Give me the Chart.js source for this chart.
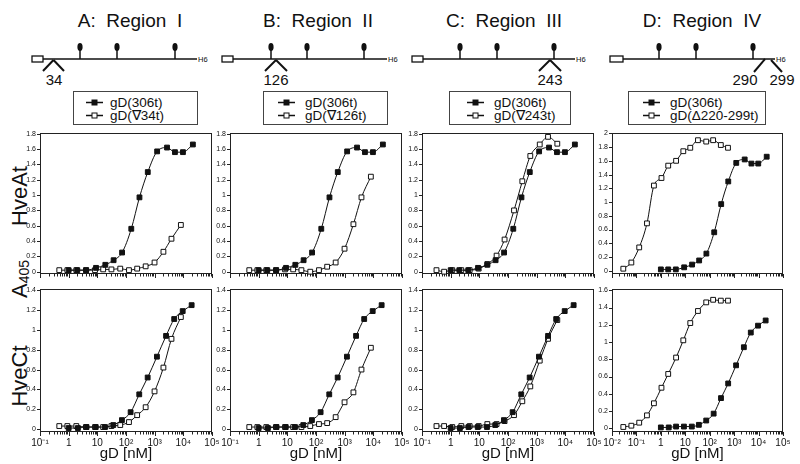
<!DOCTYPE html>
<html>
<head>
<meta charset="utf-8">
<script src="https://cdn.jsdelivr.net/npm/chart.js@4.4.1/dist/chart.umd.min.js"></script>
<style>
  body { margin: 0; background: #fff; }
  #page { position: relative; width: 800px; height: 464px; overflow: hidden; }
  #art { position: absolute; left: 0; top: 0; }
  .panel { position: absolute; }
  .panel canvas { display: block; }
</style>
</head>
<body>
<div id="page">
  <svg id="art" width="800" height="464" font-family="Liberation Sans, Arial, sans-serif"></svg>
</div>
<script>
// ---- data ----
// gD(306t): HveAt series (top row) and HveCt series (bottom row)
const concA306 = [1, 2, 4.1, 9, 19, 37, 73, 153, 295, 575, 1220, 2700, 5100, 9700, 21500];
const hveA306 = [0.02, 0.02, 0.02, 0.05, 0.09, 0.15, 0.25, 0.56, 0.97, 1.30, 1.57, 1.62, 1.56, 1.56, 1.66];
const concC306 = [1, 2.1, 4.2, 8.8, 18.5, 36, 72, 145, 290, 570, 1200, 2500, 4800, 9500, 19500];
const hveC306 = [0.01, 0.01, 0.02, 0.02, 0.02, 0.04, 0.09, 0.17, 0.35, 0.52, 0.73, 0.94, 1.11, 1.19, 1.25];

// insertion mutants 34 and 126
const concIns = [0.47, 0.9, 1.85, 4, 8.3, 16, 31, 63, 127, 245, 485, 990, 2020, 3860, 8200];
const hveA34 = [0.02, 0.02, 0.02, 0.02, 0.02, 0.03, 0.03, 0.04, 0.02, 0.04, 0.07, 0.12, 0.26, 0.43, 0.61];
const hveC34 = [0.03, 0.03, 0.03, 0.02, 0.02, 0.02, 0.03, 0.04, 0.07, 0.14, 0.22, 0.38, 0.62, 0.91, 1.13];
const hveA126 = [0.02, 0.02, 0.02, 0.02, 0.03, 0.03, 0.02, 0.00, 0.02, 0.065, 0.12, 0.30, 0.62, 0.97, 1.24];
const hveC126 = [0.02, 0.02, 0.02, 0.02, 0.02, 0.02, 0.02, 0.03, 0.05, 0.06, 0.12, 0.27, 0.37, 0.60, 0.82];

// insertion mutant 243
const conc243 = [0.32, 0.59, 1.14, 2.35, 4.6, 9.5, 19, 40, 76, 162, 316, 600, 1280, 2490, 5250];
const hveA243 = [0.02, 0.00, 0.02, 0.02, 0.02, 0.04, 0.10, 0.21, 0.42, 0.80, 1.18, 1.51, 1.66, 1.76, 1.67];
const hveC243 = [0.03, 0.03, 0.02, 0.03, 0.03, 0.03, 0.05, 0.05, 0.08, 0.14, 0.28, 0.43, 0.69, 0.91, 1.10];

// deletion mutant 220-299
const concDel = [0.029, 0.062, 0.13, 0.27, 0.52, 1.06, 2, 4.2, 8.3, 16, 33, 72, 138, 285, 560];
const hveADel = [0.03, 0.12, 0.34, 0.69, 1.24, 1.35, 1.53, 1.60, 1.74, 1.79, 1.90, 1.88, 1.90, 1.83, 1.79];
const hveCDel = [0.015, 0.03, 0.065, 0.15, 0.29, 0.47, 0.63, 0.82, 1.02, 1.22, 1.36, 1.46, 1.49, 1.48, 1.48];

const refName = 'gD(306t)';
const mutNames = ['gD(\u220734t)', 'gD(\u2207126t)', 'gD(\u2207243t)', 'gD(\u0394220-299t)'];
const titles = ['A:  Region  I', 'B:  Region  II', 'C:  Region  III', 'D:  Region  IV'];
const siteLabels = [['34'], ['126'], ['243'], ['290', '299']];

const yTicks18 = [0, 0.2, 0.4, 0.6, 0.8, 1, 1.2, 1.4, 1.6, 1.8];
const yTicks20 = [0, 0.2, 0.4, 0.6, 0.8, 1, 1.2, 1.4, 1.6, 1.8, 2];
const yTicks14 = [0, 0.2, 0.4, 0.6, 0.8, 1, 1.2, 1.4];
const yTicks16 = [0, 0.2, 0.4, 0.6, 0.8, 1, 1.2, 1.4, 1.6];

const FONT = '"Liberation Sans", Arial, sans-serif';
const INK = '#111';

// ---- svg decorations: titles, construct schematics, legends, y titles ----
const svg = document.getElementById('art');
function el(tag, attrs, text) {
  const n = document.createElementNS('http://www.w3.org/2000/svg', tag);
  for (const k in attrs) n.setAttribute(k, attrs[k]);
  if (text !== undefined) n.textContent = text;
  svg.appendChild(n);
  return n;
}

const titleX = [130, 318, 504, 702];
titles.forEach((t, i) => {
  el('text', {x: titleX[i], y: 27, 'font-size': 19, 'text-anchor': 'middle', fill: INK, style: 'white-space:pre'}, t);
});

const schem = [
  {box: 32, bw: 11, end: 197, pins: [80, 117, 175], marks: [[43, 71, 53.5, 60], [53.5, 60, 64, 71]], lab: [54]},
  {box: 222, bw: 11, end: 387, pins: [271, 307, 364], marks: [[265, 71, 276, 60], [276, 60, 287, 71]], lab: [276]},
  {box: 412, bw: 11, end: 575, pins: [460, 497, 554], marks: [[539, 71, 550, 60], [550, 60, 561, 71]], lab: [550]},
  {box: 610, bw: 13, end: 775, pins: [659, 696, 753], marks: [[754, 72, 765, 59], [771, 60, 782, 72]], lab: [745, 782]}
];
schem.forEach((s, i) => {
  el('line', {x1: s.box + s.bw, y1: 59, x2: s.end, y2: 59, stroke: INK, 'stroke-width': 1.5});
  el('rect', {x: s.box, y: 56, width: s.bw, height: 6, fill: '#fff', stroke: INK, 'stroke-width': 1.3});
  s.pins.forEach(px => {
    el('line', {x1: px, y1: 59, x2: px, y2: 50, stroke: INK, 'stroke-width': 1.5});
    el('ellipse', {cx: px, cy: 47, rx: 2.6, ry: 4, fill: INK});
  });
  s.marks.forEach(m => {
    el('line', {x1: m[0], y1: m[1], x2: m[2], y2: m[3], stroke: INK, 'stroke-width': 2});
  });
  el('text', {x: s.end + 1, y: 62, 'font-size': 7.5, fill: INK}, 'H6');
  s.lab.forEach((lx, j) => {
    el('text', {x: lx, y: 85, 'font-size': 15, 'text-anchor': 'middle', fill: INK}, siteLabels[i][j]);
  });
});

const legends = [
  {x: 73, w: 124, lx: 86, tx: 110},
  {x: 263, w: 124, lx: 278, tx: 305},
  {x: 449, w: 121, lx: 467, tx: 494},
  {x: 628, w: 137, lx: 643, tx: 670}
];
legends.forEach((g, i) => {
  el('rect', {x: g.x + 0.5, y: 91.5, width: g.w, height: 33, fill: 'none', stroke: '#444', 'stroke-width': 1});
  [[102.5, INK, refName], [115.5, '#fff', mutNames[i]]].forEach(r => {
    el('line', {x1: g.lx, y1: r[0], x2: g.lx + 17, y2: r[0], stroke: INK, 'stroke-width': 1.5});
    el('rect', {x: g.lx + 6, y: r[0] - 2.5, width: 5, height: 5, fill: r[1], stroke: INK, 'stroke-width': 1});
    el('text', {x: g.tx, y: r[0] + 4.5, 'font-size': 13.5, fill: INK}, r[2]);
  });
});

el('text', {transform: 'translate(27,196) rotate(-90)', 'font-size': 22, 'text-anchor': 'middle', fill: INK}, 'HveAt');
el('text', {transform: 'translate(27,376) rotate(-90)', 'font-size': 22, 'text-anchor': 'middle', fill: INK}, 'HveCt');
const a405 = el('text', {transform: 'translate(27,298) rotate(-90)', 'font-size': 22, fill: INK}, 'A');
const sub = document.createElementNS('http://www.w3.org/2000/svg', 'tspan');
sub.setAttribute('font-size', 14); sub.setAttribute('dy', 1.5); sub.textContent = '405';
a405.appendChild(sub);

// ---- charts ----
const SUP = {'-': '\u207B', '0': '\u2070', '1': '\u00B9', '2': '\u00B2', '3': '\u00B3', '4': '\u2074', '5': '\u2075'};
function decadeLabel(v) {
  const e = Math.log10(v), r = Math.round(e);
  if (Math.abs(e - r) > 1e-6) return '';
  if (r === 0) return '1';
  if (r === 1) return '10';
  return '10' + String(r).split('').map(c => SUP[c]).join('');
}
function pts(xs, ys) { return xs.map((x, i) => ({x: x, y: ys[i]})); }

const framePlugin = {
  id: 'frame',
  beforeDatasetsDraw(chart) {
    const {ctx, chartArea: a, scales: {x, y}} = chart;
    ctx.save();
    ctx.strokeStyle = '#222';
    ctx.lineWidth = 1;
    ctx.strokeRect(a.left + 0.5, a.top + 0.5, a.right - a.left - 1, a.bottom - a.top - 1);
    ctx.beginPath();
    x.ticks.forEach(t => {
      const px = Math.round(x.getPixelForValue(t.value)) + 0.5;
      const len = decadeLabel(t.value) ? 4 : 2.5;
      ctx.moveTo(px, a.bottom); ctx.lineTo(px, a.bottom + len);
    });
    y.ticks.forEach(t => {
      const py = Math.round(y.getPixelForValue(t.value)) + 0.5;
      ctx.moveTo(a.left - 3, py); ctx.lineTo(a.left, py);
    });
    ctx.stroke();
    ctx.restore();
  }
};

const TOP = {T: 132, B: 274, xh: 6, labels: false};
const BOT = {T: 288, B: 432, xh: 31, labels: true};
const panels = [
  Object.assign({L: 40, R: 212, xmin: 0.1, xmax: 1e5, ymin: -0.03, ymax: 1.81, yt: yTicks18, ref: [concA306, hveA306], mut: [concIns, hveA34], name: mutNames[0]}, TOP),
  Object.assign({L: 230, R: 402, xmin: 0.1, xmax: 1e5, ymin: -0.03, ymax: 1.81, yt: yTicks18, ref: [concA306, hveA306], mut: [concIns, hveA126], name: mutNames[1]}, TOP),
  Object.assign({L: 422, R: 594, xmin: 0.1, xmax: 1e5, ymin: -0.03, ymax: 1.81, yt: yTicks18, ref: [concA306, hveA306], mut: [conc243, hveA243], name: mutNames[2]}, TOP),
  Object.assign({L: 612, R: 783, xmin: 0.01, xmax: 1e5, ymin: -0.047, ymax: 2.005, yt: yTicks20, ref: [concA306, hveA306], mut: [concDel, hveADel], name: mutNames[3]}, TOP),
  Object.assign({L: 40, R: 212, xmin: 0.1, xmax: 1e5, ymin: -0.03, ymax: 1.413, yt: yTicks14, ref: [concC306, hveC306], mut: [concIns, hveC34], name: mutNames[0]}, BOT),
  Object.assign({L: 230, R: 402, xmin: 0.1, xmax: 1e5, ymin: -0.03, ymax: 1.413, yt: yTicks14, ref: [concC306, hveC306], mut: [concIns, hveC126], name: mutNames[1]}, BOT),
  Object.assign({L: 422, R: 594, xmin: 0.1, xmax: 1e5, ymin: -0.03, ymax: 1.413, yt: yTicks14, ref: [concC306, hveC306], mut: [conc243, hveC243], name: mutNames[2]}, BOT),
  Object.assign({L: 612, R: 783, xmin: 0.01, xmax: 1e5, ymin: -0.043, ymax: 1.615, yt: yTicks16, ref: [concC306, hveC306], mut: [concDel, hveCDel], name: mutNames[3]}, BOT)
];

const page = document.getElementById('page');
panels.forEach(p => {
  const w = p.R - p.L + 32 + 10, h = p.B - p.T + 4 + p.xh;
  const box = document.createElement('div');
  box.className = 'panel';
  box.style.left = (p.L - 32) + 'px';
  box.style.top = (p.T - 4) + 'px';
  box.style.width = w + 'px';
  box.style.height = h + 'px';
  const cv = document.createElement('canvas');
  cv.width = w; cv.height = h;
  box.appendChild(cv);
  page.appendChild(box);

  const series = {
    borderColor: INK, borderWidth: 1, fill: false,
    pointStyle: 'rect', pointRadius: 3.4, pointBorderWidth: 1, pointBorderColor: INK,
    cubicInterpolationMode: 'monotone', clip: false
  };

  new Chart(cv, {
    type: 'line',
    data: {
      datasets: [
        Object.assign({label: refName, data: pts(p.ref[0], p.ref[1]), pointBackgroundColor: INK}, series),
        Object.assign({label: p.name, data: pts(p.mut[0], p.mut[1]), pointBackgroundColor: '#fff'}, series)
      ]
    },
    options: {
      responsive: false,
      animation: false,
      devicePixelRatio: 1,
      events: [],
      layout: {padding: {left: 0, top: 4, right: 10, bottom: 0}},
      plugins: {legend: {display: false}, tooltip: {enabled: false}},
      scales: {
        x: {
          type: 'logarithmic',
          min: p.xmin, max: p.xmax,
          grid: {display: false, drawTicks: false},
          border: {display: false},
          ticks: {
            display: p.labels, autoSkip: false, maxRotation: 0, minRotation: 0, padding: 5,
            color: INK, font: {family: FONT, size: 10},
            callback: v => decadeLabel(v)
          },
          title: {display: p.labels, text: 'gD [nM]', color: INK, padding: 0, font: {family: FONT, size: 15}},
          afterBuildTicks(s) {
            const out = [];
            const e0 = Math.round(Math.log10(p.xmin)), e1 = Math.round(Math.log10(p.xmax));
            for (let e = e0; e < e1; e++) {
              for (let m = 1; m < 10; m++) out.push({value: m * Math.pow(10, e)});
            }
            out.push({value: p.xmax});
            s.ticks = out;
          },
          afterFit(s) { s.height = p.xh; s.paddingLeft = 0; s.paddingRight = 0; }
        },
        y: {
          type: 'linear',
          min: p.ymin, max: p.ymax,
          grid: {display: false, drawTicks: false},
          border: {display: false},
          ticks: {padding: 4, color: INK, font: {family: FONT, size: 7}, callback: v => String(+v.toFixed(1))},
          afterBuildTicks(s) { s.ticks = p.yt.map(v => ({value: v})); },
          afterFit(s) { s.width = 32; s.paddingTop = 0; s.paddingBottom = 0; }
        }
      }
    },
    plugins: [framePlugin]
  });
});
</script>
</body>
</html>
